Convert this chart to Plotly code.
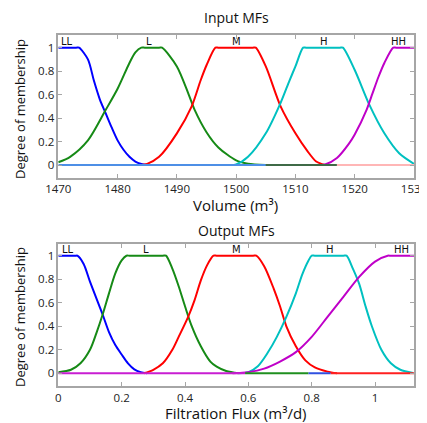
import plotly.graph_objects as go

# ---- input MFs (volume, m3) ----
in_ll_x = [1470, 1473, 1473.5, 1475, 1476, 1477, 1478, 1479, 1480, 1481, 1482, 1483, 1484, 1485]
in_ll_y = [1, 1, 1, 0.9, 0.72, 0.56, 0.44, 0.32, 0.21, 0.13, 0.07, 0.03, 0.01, 0.0]

in_l_x = [1470, 1472, 1475, 1478, 1480, 1482, 1483, 1484, 1484.6, 1487, 1487.5,
          1490, 1492, 1493, 1495, 1497, 1500, 1502, 1505]
in_l_y = [0.023, 0.07, 0.21, 0.47, 0.65, 0.87, 0.96, 1, 1, 1, 1,
          0.84, 0.6, 0.47, 0.28, 0.15, 0.04, 0.012, 0.0]

in_m_x = [1484, 1485, 1487, 1490, 1492.5, 1494, 1495, 1496.5, 1497, 1502.8, 1503.3,
          1505, 1507.5, 1510, 1512, 1513.5, 1515]
in_m_y = [0.0, 0.01, 0.07, 0.27, 0.5, 0.72, 0.85, 1, 1, 1, 1,
          0.84, 0.5, 0.27, 0.12, 0.03, 0.0]

in_h_x = [1499, 1500, 1502, 1505, 1507.5, 1509, 1510, 1511.3, 1511.8, 1517.5, 1518,
          1520, 1522.5, 1525, 1527.5, 1530]
in_h_y = [0.0, 0.005, 0.07, 0.27, 0.53, 0.72, 0.84, 1, 1, 1, 1,
          0.81, 0.51, 0.27, 0.1, 0.01]

in_hh_x = [1513, 1515, 1517, 1519, 1520, 1522, 1523, 1524, 1525, 1526.5, 1527, 1530]
in_hh_y = [0.0, 0.005, 0.06, 0.18, 0.26, 0.47, 0.61, 0.75, 0.87, 1, 1, 1]

in_base_x = [1470, 1505, 1517, 1530]

# ---- output MFs (filtration flux, m3/d) ----
out_ll_x = [0, 0.055, 0.06, 0.08, 0.1, 0.13, 0.14, 0.16, 0.18, 0.2, 0.22, 0.24, 0.26, 0.28]
out_ll_y = [1, 1, 1, 0.93, 0.78, 0.57, 0.5, 0.35, 0.24, 0.16, 0.085, 0.034, 0.01, 0.0]

out_l_x = [0, 0.04, 0.07, 0.1, 0.12, 0.14, 0.16, 0.18, 0.2, 0.215, 0.225, 0.33, 0.34,
           0.36, 0.38, 0.4, 0.42, 0.45, 0.48, 0.5, 0.53, 0.57]
out_l_y = [0.01, 0.03, 0.085, 0.2, 0.34, 0.5, 0.68, 0.85, 0.96, 1, 1, 1, 1,
           0.89, 0.74, 0.57, 0.41, 0.23, 0.1, 0.057, 0.02, 0.0]

out_m_x = [0.27, 0.3, 0.33, 0.36, 0.38, 0.41, 0.43, 0.45, 0.47, 0.49, 0.5, 0.615, 0.625,
           0.65, 0.68, 0.7, 0.72, 0.75, 0.78, 0.81, 0.85, 0.88]
out_m_y = [0.0, 0.03, 0.085, 0.2, 0.31, 0.48, 0.62, 0.79, 0.92, 1, 1, 1, 1,
           0.91, 0.72, 0.57, 0.4, 0.23, 0.11, 0.05, 0.014, 0.0]

out_h_x = [0.57, 0.6, 0.63, 0.66, 0.69, 0.72, 0.75, 0.77, 0.79, 0.8, 0.81, 0.9, 0.91,
           0.93, 0.95, 0.97, 0.99, 1.02, 1.05, 1.08, 1.12]
out_h_y = [0.0, 0.01, 0.06, 0.17, 0.31, 0.48, 0.68, 0.84, 0.96, 1, 1, 1, 1,
           0.89, 0.76, 0.57, 0.4, 0.2, 0.085, 0.03, 0.003]

out_hh_x = [0.55, 0.6, 0.65, 0.7, 0.75, 0.8, 0.85, 0.9, 0.95, 1.0, 1.04, 1.05, 1.123]
out_hh_y = [0.0, 0.01, 0.04, 0.1, 0.18, 0.31, 0.48, 0.65, 0.82, 0.95, 1, 1, 1]

out_base_x = [0, 0.59, 0.79, 0.86, 1.123]

mf_names = ["LL", "L", "M", "H", "HH"]
in_label_x = [1471.5, 1485.3, 1500, 1514.8, 1527.4]
out_label_x = [0.03, 0.277, 0.563, 0.858, 1.084]

colors = ["#0000ff", "#168a16", "#ff0000", "#00c0c0", "#bf00c8"]
in_base_colors = ["#4d8fe6", "#3f6a47", "#ffb6b6"]
out_base_colors = ["#c81ed2", "#1f8f1f", "#3050e0", "#ff2020"]

W, H = 427, 423
OFF = 8  # page body margin, positions below are in page pixels


def fx(px):
    return (px - OFF) / W


def fy(py):
    return 1 - (py - OFF) / H


fig = go.Figure()


def add_curves(curves, xaxis, yaxis, base_x, base_colors):
    for (cx, cy), col in zip(curves, colors):
        fig.add_trace(go.Scatter(
            x=cx, y=cy, mode="lines", xaxis=xaxis, yaxis=yaxis,
            line=dict(color=col, width=2, shape="spline", smoothing=0.8),
            hoverinfo="skip", showlegend=False,
        ))
    for i, col in enumerate(base_colors):
        fig.add_trace(go.Scatter(
            x=[base_x[i], base_x[i + 1]], y=[0, 0], mode="lines",
            xaxis=xaxis, yaxis=yaxis, line=dict(color=col, width=2),
            hoverinfo="skip", showlegend=False,
        ))


add_curves([(in_ll_x, in_ll_y), (in_l_x, in_l_y), (in_m_x, in_m_y),
            (in_h_x, in_h_y), (in_hh_x, in_hh_y)], "x", "y", in_base_x, in_base_colors)
add_curves([(out_ll_x, out_ll_y), (out_l_x, out_l_y), (out_m_x, out_m_y),
            (out_h_x, out_h_y), (out_hh_x, out_hh_y)], "x2", "y2", out_base_x, out_base_colors)

axis_style = dict(
    showline=True, linecolor="#a6a6a6", linewidth=1.5, mirror="ticks",
    ticks="inside", ticklen=4, tickcolor="#a6a6a6", tickwidth=1,
    showgrid=False, zeroline=False, automargin=False,
    tickfont=dict(family="Open Sans", size=11.5, color="#222222"),
)
xdom = [fx(58.3), fx(414)]
yvals = [0, 0.2, 0.4, 0.6, 0.8, 1]
ytext = ["0", "0.2", "0.4", "0.6", "0.8", "1"]

fig.update_layout(
    template="none",
    width=W, height=H,
    margin=dict(l=0, r=0, t=0, b=0),
    paper_bgcolor="white", plot_bgcolor="white",
    xaxis=dict(axis_style, domain=xdom, range=[1470, 1530], anchor="y",
               tickvals=[1470, 1480, 1490, 1500, 1510, 1520, 1530]),
    yaxis=dict(axis_style, domain=[fy(177.7), fy(35)], range=[-0.108, 1.108],
               anchor="x", tickvals=yvals, ticktext=ytext),
    xaxis2=dict(axis_style, domain=xdom, range=[0, 1.123], anchor="y2",
                tickvals=[0, 0.2, 0.4, 0.6, 0.8, 1], ticktext=["0", "0.2", "0.4", "0.6", "0.8", "1"]),
    yaxis2=dict(axis_style, domain=[fy(386), fy(244.3)], range=[-0.108, 1.097],
                anchor="x2", tickvals=yvals, ticktext=ytext),
)

label_font = dict(family="DejaVu Sans", size=10, color="#111111")
anns = []
for name, lx in zip(mf_names, in_label_x):
    anns.append(dict(x=lx, y=1.05, xref="x", yref="y", text=name, showarrow=False,
                     font=label_font))
for name, lx in zip(mf_names, out_label_x):
    anns.append(dict(x=lx, y=1.054, xref="x2", yref="y2", text=name, showarrow=False,
                     font=label_font))

# text, page x, page y, angle, font size
page_text = [
    ("Input MFs", 236, 17, 0, 14),
    ("Volume (m³)", 235, 205, 0, 15),
    ("Output MFs", 236, 230, 0, 14),
    ("Filtration Flux (m³/d)", 235, 413, 0, 15),
    ("Degree of membership", 20, 109, -90, 13),
    ("Degree of membership", 20, 317, -90, 13),
]
for txt, px, py, ang, size in page_text:
    anns.append(dict(x=fx(px), y=fy(py), xref="paper", yref="paper", text=txt,
                     showarrow=False, textangle=ang, borderpad=0,
                     font=dict(family="Open Sans", size=size, color="#111111"),
                     xanchor="center", yanchor="middle"))
fig.update_layout(annotations=anns)

fig.write_html("out.html")
